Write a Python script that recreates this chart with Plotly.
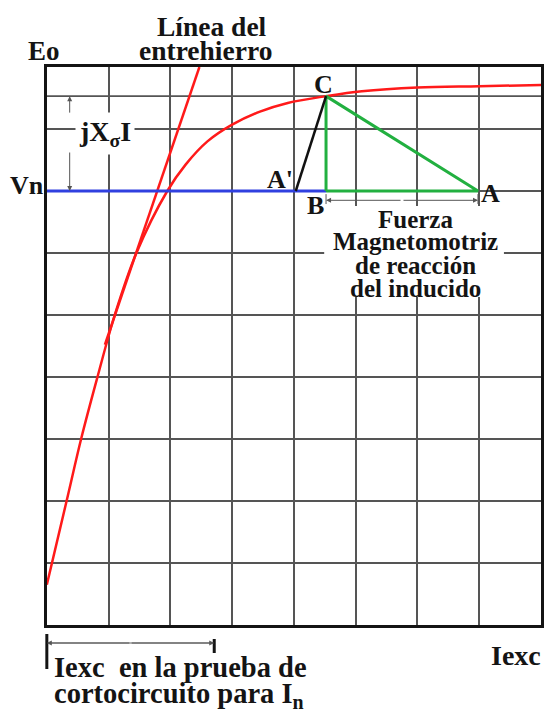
import plotly.graph_objects as go

# ---- chart values (grid units: one unit = one grid square) ----
occ_x = [0.0, 0.32, 0.56, 0.82, 1.10, 1.45, 1.95, 2.25, 2.60, 3.00, 3.45, 3.90, 4.52, 5.10, 6.00, 7.00, 8.00]
occ_y = [0.65, 2.0, 3.02, 4.0, 5.0, 6.0, 7.0, 7.43, 7.80, 8.07, 8.28, 8.42, 8.53, 8.61, 8.67, 8.69, 8.71]

airgap_x = [0.94, 2.47]
airgap_y = [4.52, 9.0]

vn = 7.0          # rated voltage level
a_prime_x = 4.03  # point A'
b_x = 4.52        # point B (and C above it)
c_y = 8.53        # height of point C on the curve
a_x = 6.98        # point A
isc_exc = 2.71    # field current of the short-circuit test at In
x_max, y_max = 8, 9

# ---- page geometry ----
W, H = 544, 713
PL, PR, PT, PB = 47, 543, 67, 625

def px(p):
    return p / W

def py(p):
    return 1 - p / H

def dx(v):
    return px(PL + (PR - PL) * v / x_max)

FONT = "Liberation Serif, Times New Roman, serif"
INK = "#141414"
GRID = "#555555"

fig = go.Figure()

fig.add_trace(go.Scatter(x=occ_x, y=occ_y, mode="lines",
                         line=dict(color="#ff1a1a", width=2.5, shape="spline", smoothing=1.0),
                         hoverinfo="skip"))
fig.add_trace(go.Scatter(x=airgap_x, y=airgap_y, mode="lines",
                         line=dict(color="#ff1a1a", width=2.5), hoverinfo="skip"))
fig.add_trace(go.Scatter(x=[0, b_x], y=[vn, vn], mode="lines",
                         line=dict(color="#3040e0", width=3), hoverinfo="skip"))
fig.add_trace(go.Scatter(x=[b_x, b_x, a_x, b_x], y=[vn, c_y, vn, vn], mode="lines",
                         line=dict(color="#22b040", width=3), hoverinfo="skip"))
fig.add_trace(go.Scatter(x=[a_prime_x, b_x], y=[vn, c_y], mode="lines",
                         line=dict(color="#111111", width=2.5), hoverinfo="skip"))

shapes = [
    # extra construction line through C
    dict(type="line", xref="x", yref="y", x0=0, x1=x_max, y0=c_y, y1=c_y,
         line=dict(color=GRID, width=1.8), layer="below"),
    # white panel behind the reaction label
    dict(type="rect", xref="x", yref="y", x0=4.49, x1=7.40, y0=5.29, y1=6.76,
         fillcolor="white", line=dict(width=0), layer="between"),
    # end ticks of the B-A dimension
    dict(type="line", xref="x", yref="y", x0=b_x, x1=b_x, y0=6.79, y1=6.95,
         line=dict(color="#555", width=1)),
    dict(type="line", xref="x", yref="y", x0=a_x, x1=a_x, y0=6.79, y1=6.95,
         line=dict(color="#555", width=1)),
    # bottom dimension for the short-circuit field current
    dict(type="line", xref="paper", yref="paper", x0=dx(0), x1=dx(isc_exc),
         y0=py(643), y1=py(643), line=dict(color="#666", width=1.2)),
    dict(type="line", xref="paper", yref="paper", x0=dx(0), x1=dx(0),
         y0=py(669), y1=py(634), line=dict(color=INK, width=3)),
    dict(type="line", xref="paper", yref="paper", x0=dx(isc_exc), x1=dx(isc_exc),
         y0=py(653), y1=py(639), line=dict(color=INK, width=3)),
]

jx = 0.37  # x of the leakage-reactance dimension

annotations = []

def arrow(x, y, ax, ay, xref="x", yref="y"):
    annotations.append(dict(x=x, y=y, xref=xref, yref=yref, ax=ax, ay=ay,
                            axref="pixel", ayref="pixel", text="", showarrow=True,
                            arrowhead=2, arrowsize=1, arrowwidth=1, arrowcolor="#555",
                            standoff=0, startstandoff=0))

# jXσI dimension arrows
arrow(jx, c_y, 0, 18)
arrow(jx, vn, 0, -40)
# B-A dimension arrows
arrow(b_x, 6.85, 76, 0)
arrow(a_x, 6.85, -76, 0)
# bottom dimension arrows
arrow(dx(0), py(643), 84, 0, "paper", "paper")
arrow(dx(isc_exc), py(643), -84, 0, "paper", "paper")

def label(text, x, y, size, xanchor="center", bg=None, xref="paper", yref="paper",
          xshift=0, yshift=0):
    a = dict(text=text, x=x, y=y, xref=xref, yref=yref, showarrow=False,
             xanchor=xanchor, yanchor="middle", xshift=xshift, yshift=yshift,
             font=dict(family=FONT, size=size, color=INK, weight="bold"))
    if bg:
        a["bgcolor"] = bg
        a["borderpad"] = 3
    annotations.append(a)

label("Línea del", px(213), py(26), 27.5)
label("entrehierro", px(206), py(51), 27.5)
label("Eo", px(44), py(51), 27)
label("Vn", px(27), py(185), 26)
label("jX<sub>σ</sub>I", px(105), py(133), 28, bg="white")
label("C", b_x, c_y, 26, xref="x", yref="y", xshift=-3, yshift=12)
label("A'", a_prime_x, vn, 26, xref="x", yref="y", xshift=-16, yshift=11)
label("B", b_x, vn, 26, xref="x", yref="y", xshift=-11, yshift=-15)
label("A", a_x, vn, 26, xref="x", yref="y", xshift=13, yshift=-3)
label("Iexc", px(518), py(655), 28)

for txt, yc in [("Fuerza", 219), ("Magnetomotriz", 241),
                ("de reacción", 265), ("del inducido", 288)]:
    label(txt, px(417), py(yc), 25)

label("Iexc\u00a0\u00a0en la prueba de", px(52), py(667), 28.5, xanchor="left")
label("cortocircuito\u00a0para I<sub>n</sub>", px(52), py(695), 28.5, xanchor="left")

fig.update_layout(
    width=W, height=H,
    margin=dict(l=0, r=0, t=0, b=0),
    paper_bgcolor="white", plot_bgcolor="white",
    showlegend=False,
    shapes=shapes,
    annotations=annotations,
    xaxis=dict(domain=[px(PL), px(PR)], range=[0, x_max], dtick=1, tick0=0,
               showgrid=True, gridcolor=GRID, gridwidth=1.8,
               showline=True, linecolor=INK, linewidth=3, mirror=True,
               showticklabels=False, ticks="", zeroline=False, fixedrange=True),
    yaxis=dict(domain=[py(PB), py(PT)], range=[0, y_max], dtick=1, tick0=0,
               showgrid=True, gridcolor=GRID, gridwidth=1.8,
               showline=True, linecolor=INK, linewidth=3, mirror=True,
               showticklabels=False, ticks="", zeroline=False, fixedrange=True),
)

fig.write_html("out.html", config=dict(displayModeBar=False))
